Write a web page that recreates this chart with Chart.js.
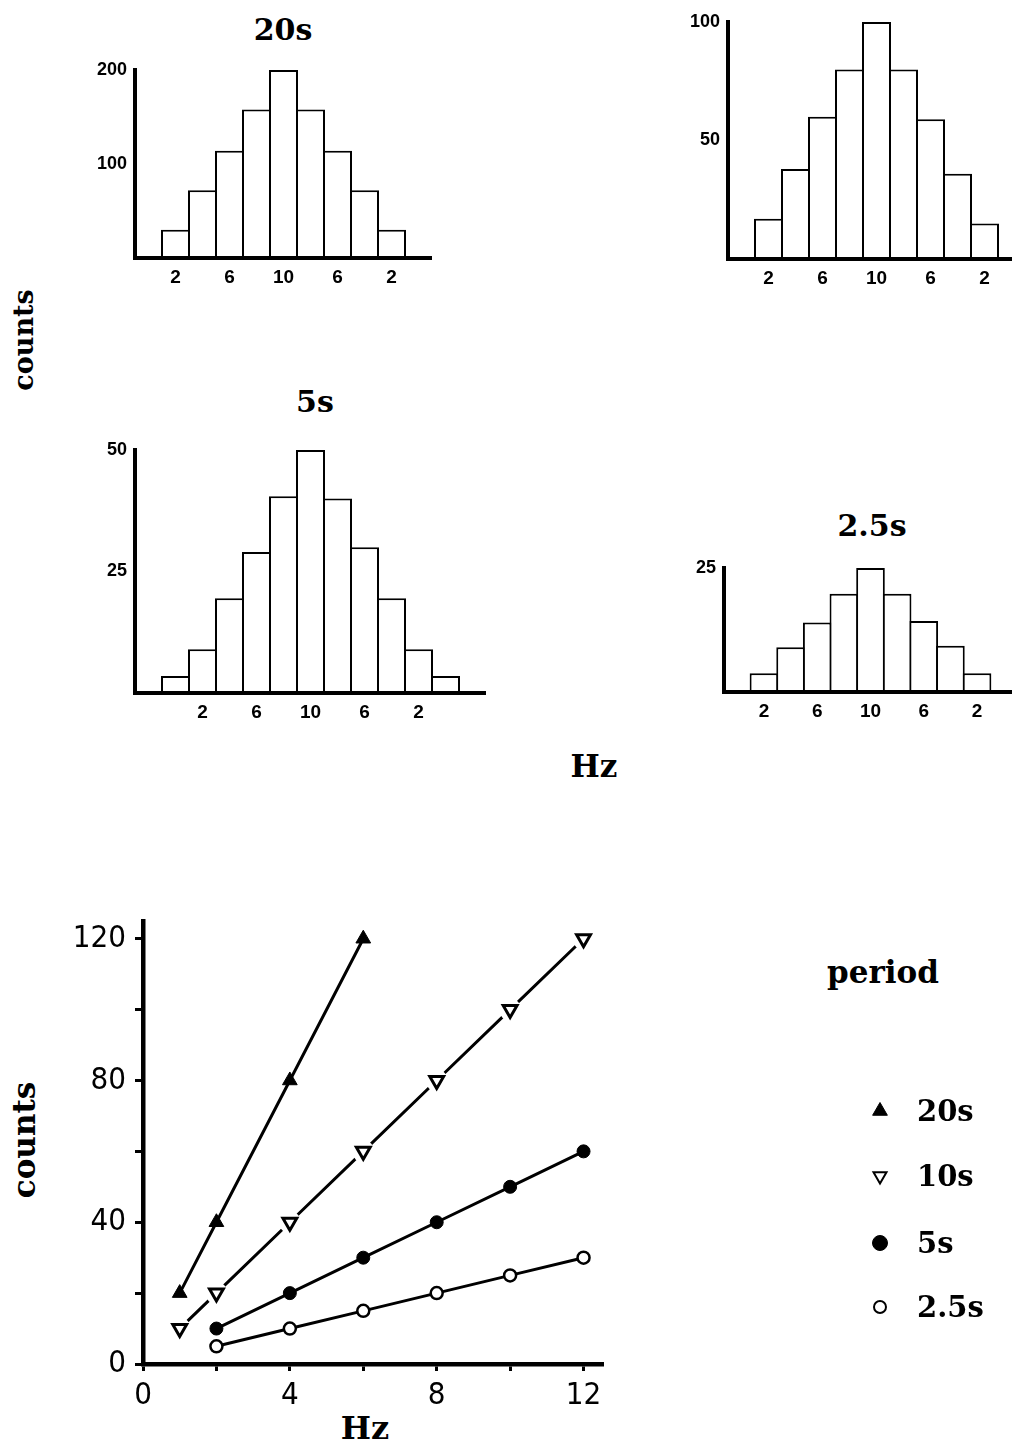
<!DOCTYPE html>
<html>
<head>
<meta charset="utf-8">
<title>counts / Hz</title>
<script src="https://cdn.jsdelivr.net/npm/chart.js@4/dist/chart.umd.min.js"></script>
<style>
  html, body { margin: 0; padding: 0; background: #fff; }
  body { position: relative; width: 1012px; height: 1446px; overflow: hidden; }
  canvas { position: absolute; }
  .lbl {
    position: absolute; color: #000; line-height: 1; white-space: nowrap;
    font-family: "DejaVu Serif", "Liberation Serif", serif; font-weight: bold;
    transform: translate(-50%, -50%);
  }
  .rot { transform: translate(-50%, -50%) rotate(-90deg); }
  .leg { transform: translate(0, -50%); }
</style>
</head>
<body>

<div class="lbl" style="left:283px; top:30px; font-size:30px">20s</div>
<div class="lbl" style="left:315px; top:402px; font-size:30px">5s</div>
<div class="lbl" style="left:872px; top:526px; font-size:30px">2.5s</div>
<div class="lbl rot" style="left:23px; top:340px; font-size:27px">counts</div>
<div class="lbl" style="left:594px; top:766px; font-size:31px">Hz</div>

<div class="lbl rot" style="left:24px; top:1140px; font-size:31px">counts</div>
<div class="lbl" style="left:365px; top:1428px; font-size:32px">Hz</div>
<div class="lbl" style="left:883px; top:972px; font-size:31px">period</div>

<canvas id="h20"></canvas>
<canvas id="h10"></canvas>
<canvas id="h5"></canvas>
<canvas id="h25"></canvas>
<canvas id="lines"></canvas>
<canvas id="legendMarks"></canvas>
<div id="legendText"></div>

<script>
// ---- histograms (frequency bins, counts) ----
const bins9 = ["2", "4", "6", "8", "10", "8", "6", "4", "2"];
const bins11 = ["0", "2", "4", "6", "8", "10", "8", "6", "4", "2", "0"];
const labeledBins = ["2", "6", "10"];

const hist20s = [30, 72, 114, 158, 200, 158, 114, 72, 30];
const hist10s = [17, 38, 60, 80, 100, 80, 59, 36, 15];
const hist5s = [3.5, 9, 19.5, 29, 40.5, 50, 40, 30, 19.5, 9, 3.5];
const hist2_5s = [3.8, 9, 14, 19.8, 25, 19.8, 14.3, 9.3, 3.8];

const yTicks20s = [100, 200];
const yTicks10s = [50, 100];
const yTicks5s = [25, 50];
const yTicks2_5s = [25];

// ---- counts vs Hz, one list per period ----
const periods = ["20s", "10s", "5s", "2.5s"];
const hz20 = [1, 2, 4, 6];
const counts20 = [20, 40, 80, 120];
const hz10 = [1, 2, 4, 6, 8, 10, 12];
const counts10 = [10, 20, 40, 60, 80, 100, 120];
const hz5 = [2, 4, 6, 8, 10, 12];
const counts5 = [10, 20, 30, 40, 50, 60];
const hz2_5 = [2, 4, 6, 8, 10, 12];
const counts2_5 = [5, 10, 15, 20, 25, 30];

const xTickValues = [0, 2, 4, 6, 8, 10, 12];
const xTickLabels = [0, 4, 8, 12];
const yTickValues = [0, 20, 40, 60, 80, 100, 120];
const yTickLabels = [0, 40, 80, 120];

const BLACK = "#000";
const sansNarrow = "'Liberation Sans Narrow', 'DejaVu Sans Condensed', 'Liberation Sans', sans-serif";
const sans = "'Liberation Sans', Arial, sans-serif";

const pts = (xs, ys) => xs.map((x, i) => ({ x, y: ys[i] }));

function place(cv, left, top, w, h) {
  cv.width = w; cv.height = h;
  cv.style.left = left + "px";
  cv.style.top = top + "px";
}

// histogram: area = pixel box of the plot on the page
const Y_W = 70, X_H = 34, PAD_T = 22;
function histogram(id, area, bins, counts, yTicks) {
  const cv = document.getElementById(id);
  const left = area.left - Y_W, top = area.top - PAD_T;
  place(cv, left, top, area.right - left, area.bottom + X_H - top);

  const labels = ["", ...bins, ""];
  const data = [null, ...counts, null];
  const catW = (area.right - area.left) / labels.length;

  return new Chart(cv, {
    type: "bar",
    data: {
      labels,
      datasets: [{
        data,
        backgroundColor: "#fff",
        borderColor: BLACK,
        borderWidth: 2,
        borderSkipped: "bottom",
        categoryPercentage: 1,
        barPercentage: 1 + 2 / catW
      }]
    },
    options: {
      responsive: false,
      animation: false,
      layout: { padding: { top: PAD_T, right: 0, bottom: 0, left: 0 } },
      plugins: { legend: { display: false }, tooltip: { enabled: false } },
      scales: {
        x: {
          grid: { display: false, drawTicks: false },
          border: { display: true, color: BLACK, width: 4, z: 1 }, // over the bar bottoms
          ticks: {
            color: BLACK, autoSkip: false, maxRotation: 0, padding: 8,
            font: { family: sans, size: 19, weight: "bold" },
            callback(v) {
              const l = this.getLabelForValue(v);
              return labeledBins.includes(l) ? l : "";
            }
          },
          afterFit: (s) => { s.height = X_H; }
        },
        y: {
          min: 0,
          max: yTicks[yTicks.length - 1],
          afterBuildTicks: (s) => { s.ticks = yTicks.map((v) => ({ value: v })); },
          grid: { display: false, drawTicks: false },
          border: { display: true, color: BLACK, width: 4, z: 1 },
          ticks: { color: BLACK, padding: 8, font: { family: sans, size: 18, weight: "bold" } },
          afterFit: (s) => { s.width = Y_W; }
        }
      }
    }
  });
}

histogram("h20", { left: 135, right: 432, top: 70, bottom: 258 }, bins9, hist20s, yTicks20s);
histogram("h10", { left: 728, right: 1025, top: 22, bottom: 259 }, bins9, hist10s, yTicks10s);
histogram("h5", { left: 135, right: 486, top: 450, bottom: 693 }, bins11, hist5s, yTicks5s);
histogram("h25", { left: 724, right: 1017, top: 568, bottom: 692 }, bins9, hist2_5s, yTicks2_5s);

// ---- counts vs Hz ----
const lineCv = document.getElementById("lines");
place(lineCv, 0, 880, 1012, 566);

const style20 = { pointStyle: "triangle", rotation: 0, radius: 8.5, fill: BLACK, border: 1 };
const style10 = { pointStyle: "triangle", rotation: 180, radius: 8, fill: "#fff", border: 3 };
const style5 = { pointStyle: "circle", rotation: 0, radius: 6.5, fill: BLACK, border: 1 };
const style2_5 = { pointStyle: "circle", rotation: 0, radius: 6, fill: "#fff", border: 2.5 };

function series(data, st, extra) {
  return Object.assign({
    data,
    borderColor: BLACK,
    borderWidth: 3,
    pointStyle: st.pointStyle,
    rotation: st.rotation,
    pointRadius: st.radius,
    pointBackgroundColor: st.fill,
    pointBorderColor: BLACK,
    pointBorderWidth: st.border,
    showLine: true,
    order: 1
  }, extra || {});
}

new Chart(lineCv, {
  type: "scatter",
  data: {
    datasets: [
      series(pts(hz20, counts20), style20),
      // 10s: line, white gap round each marker, then the marker
      series(pts(hz10, counts10), style10, { pointRadius: 0, order: 3 }),
      series(pts(hz10, counts10), style10, {
        showLine: false, pointStyle: "circle", pointRadius: 11,
        pointBackgroundColor: "#fff", pointBorderColor: "#fff", pointBorderWidth: 0, order: 2
      }),
      series(pts(hz10, counts10), style10, { showLine: false, order: 1 }),
      series(pts(hz5, counts5), style5),
      series(pts(hz2_5, counts2_5), style2_5)
    ]
  },
  options: {
    responsive: false,
    animation: false,
    layout: { padding: { top: 41, right: 409, bottom: 42, left: 0 } },
    plugins: { legend: { display: false }, tooltip: { enabled: false } },
    scales: {
      x: {
        type: "linear",
        min: 0,
        max: 12.53,
        afterBuildTicks: (s) => { s.ticks = xTickValues.map((v) => ({ value: v })); },
        grid: { drawOnChartArea: false, tickLength: 7, tickWidth: 3, tickColor: BLACK },
        border: { display: true, color: BLACK, width: 4.5 },
        ticks: {
          color: BLACK, padding: 6,
          font: { family: sansNarrow, size: 31 },
          callback: (v) => (xTickLabels.includes(v) ? String(v) : "")
        },
        afterFit: (s) => { s.height = 40; }
      },
      y: {
        min: 0,
        max: 125,
        afterBuildTicks: (s) => { s.ticks = yTickValues.map((v) => ({ value: v })); },
        grid: { drawOnChartArea: false, tickLength: 8, tickWidth: 3, tickColor: BLACK },
        border: { display: true, color: BLACK, width: 4.5 },
        ticks: {
          color: BLACK, padding: 9,
          font: { family: sansNarrow, size: 31 },
          callback: (v) => (yTickLabels.includes(v) ? String(v) : "")
        },
        afterFit: (s) => { s.width = 143; }
      }
    }
  }
});

// ---- legend: markers drawn with the library's own point renderer ----
const legendStyles = [
  { pointStyle: "triangle", rotation: 0, radius: 8.5, fill: BLACK, border: 1 },
  { pointStyle: "triangle", rotation: 180, radius: 7.5, fill: "#fff", border: 2 },
  { pointStyle: "circle", rotation: 0, radius: 7.5, fill: BLACK, border: 1 },
  { pointStyle: "circle", rotation: 0, radius: 6, fill: "#fff", border: 2 }
];
const legendTop = 1080, legendLeft = 860;
const legendRowsY = [1111, 1176, 1243, 1307];

const legCv = document.getElementById("legendMarks");
place(legCv, legendLeft, legendTop, 40, 260);
const lctx = legCv.getContext("2d");
const legendText = document.getElementById("legendText");
periods.forEach((name, i) => {
  const st = legendStyles[i];
  lctx.fillStyle = st.fill;
  lctx.strokeStyle = BLACK;
  lctx.lineWidth = st.border;
  Chart.helpers.drawPoint(lctx, {
    pointStyle: st.pointStyle, rotation: st.rotation, radius: st.radius, borderWidth: st.border
  }, 880 - legendLeft, legendRowsY[i] - legendTop);

  const t = document.createElement("div");
  t.className = "lbl leg";
  t.style.left = "917px";
  t.style.top = legendRowsY[i] + "px";
  t.style.fontSize = "29px";
  t.textContent = name;
  legendText.appendChild(t);
});
</script>
</body>
</html>
